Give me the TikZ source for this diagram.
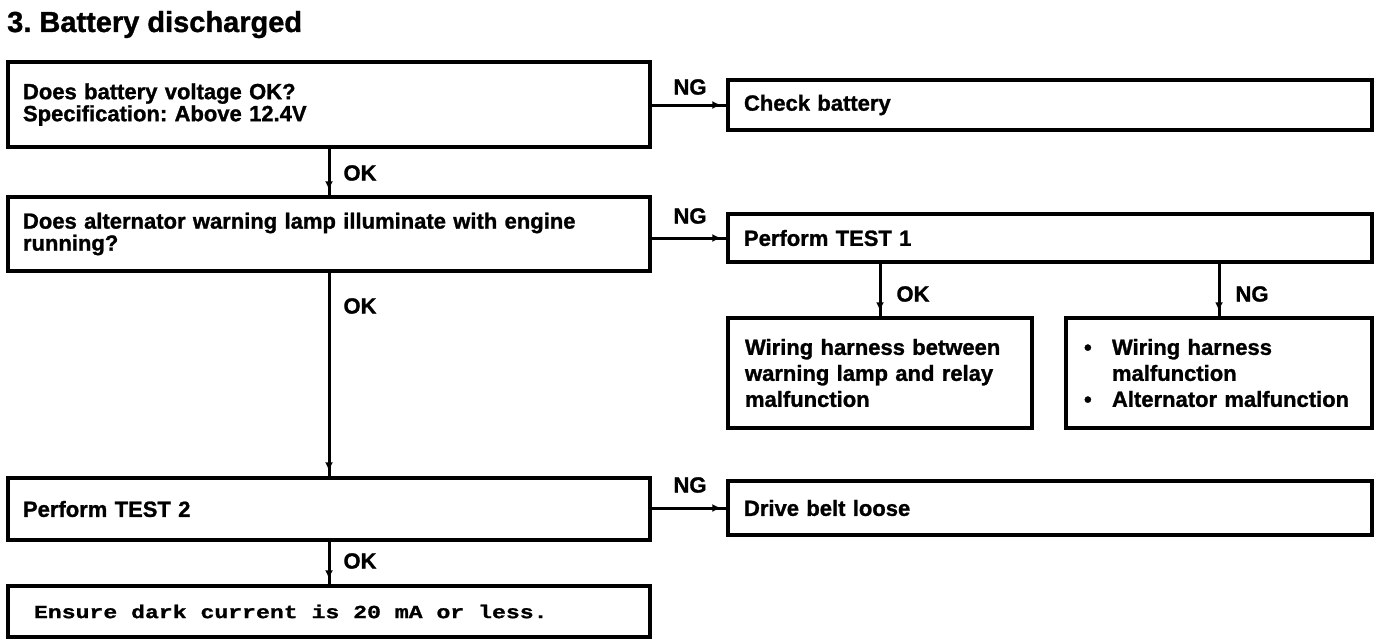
\documentclass[tikz,border=0pt]{standalone}
\usepackage{fontspec}
\setmainfont{Liberation Sans}[BoldFeatures={FakeBold=1.2}]
\newfontfamily\monofnt{Liberation Mono}[FakeStretch=1.25, BoldFeatures={FakeBold=1.2}]
\newcommand\msp{\hspace*{13.9pt}}
\frenchspacing
\usetikzlibrary{arrows.meta,decorations.markings}
\tikzset{
  box/.style={draw, line width=3.5pt, rectangle, inner xsep=15pt, inner ysep=0pt,
    align=left, font=\fontsize{22}{22}\selectfont\bfseries, anchor=center},
  lbl/.style={font=\fontsize{22}{22}\selectfont\bfseries, inner sep=0pt, anchor=center},
  conn/.style={line width=3pt,
    decoration={markings, mark=at position -5pt with {\arrow{Latex[length=9pt,width=8pt]}}},
    postaction={decorate}}
}
\begin{document}
\begin{tikzpicture}[x=1pt,y=-1pt]
\useasboundingbox (0,0) rectangle (1392,642);
\node[anchor=base west, inner sep=0pt, font=\fontsize{29}{30}\selectfont\bfseries] (title) at (7,32) {3. Battery discharged};

\node[box, minimum height=85pt, text width=612pt] (A) at (329,104.5)
  {Does battery voltage OK?\\Specification: Above 12.4V};
\node[box, minimum height=50pt, text width=612pt, inner xsep=16pt] (B) at (1050,105) {Check battery};
\node[box, minimum height=74pt, text width=612pt] (C) at (329,234)
  {Does alternator warning lamp illuminate with engine\\running?};
\node[box, minimum height=48pt, text width=612pt, inner xsep=16pt] (D) at (1050,238) {Perform TEST 1};
\node[box, minimum height=110pt, text width=270pt, inner xsep=17pt, font=\fontsize{22}{26}\selectfont\bfseries] (E) at (880,373)
  {Wiring harness between\\warning lamp and relay\\malfunction};
\node[box, minimum height=110pt, text width=270pt, inner xsep=18pt, font=\fontsize{22}{26}\selectfont\bfseries] (F) at (1219,373)
  {\makebox[28pt][l]{\textbullet}Wiring harness\\\hspace*{28pt}malfunction\\\makebox[28pt][l]{\textbullet}Alternator malfunction};
\node[box, minimum height=62pt, text width=612pt] (G) at (329,509) {Perform TEST 2};
\node[box, minimum height=54pt, text width=612pt, inner xsep=16pt] (H) at (1050,508) {Drive belt loose};
\node[box, minimum height=51pt, text width=590pt, inner xsep=26pt, font=\fontsize{18.5}{20}\selectfont\monofnt\bfseries] (I) at (329,611.5)
  {Ensure\msp dark\msp current\msp is\msp 20\msp mA\msp or\msp less.};

\draw[conn] (A.east |- B.west) -- (B.west);
\draw[conn] (C.east |- D.west) -- (D.west);
\draw[conn] (G.east |- H.west) -- (H.west);
\draw[conn] (A.south) -- (C.north);
\draw[conn] (C.south) -- (G.north);
\draw[conn] (G.south) -- (I.north);
\draw[conn] (E.north |- D.south) -- (E.north);
\draw[conn] (F.north |- D.south) -- (F.north);

\node[lbl] (ng1) at (690,87) {NG};
\node[lbl] (ng2) at (690,216) {NG};
\node[lbl] (ng3) at (690,485) {NG};
\node[lbl] (ok1) at (360,173) {OK};
\node[lbl] (ok2) at (360,306) {OK};
\node[lbl] (ok3) at (913,294) {OK};
\node[lbl] (ng4) at (1252,294) {NG};
\node[lbl] (ok4) at (360,561) {OK};
\end{tikzpicture}
\end{document}
